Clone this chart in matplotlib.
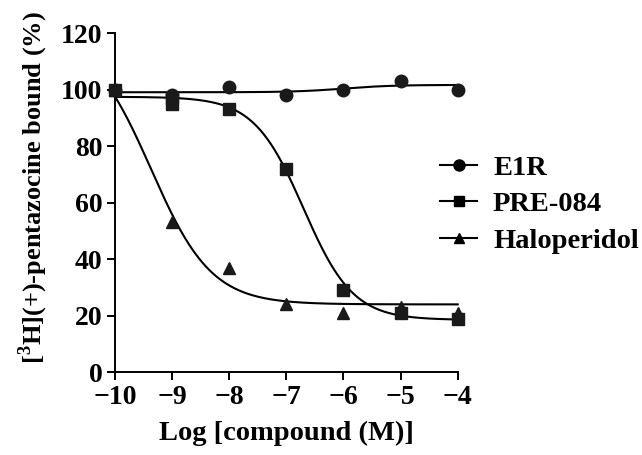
import numpy as np
import matplotlib
matplotlib.use("Agg")
import matplotlib.pyplot as plt

plt.rcParams["font.family"] = "Liberation Serif"
plt.rcParams["font.weight"] = "bold"
plt.rcParams["mathtext.fontset"] = "custom"
plt.rcParams["mathtext.rm"] = "Liberation Serif:bold"
plt.rcParams["mathtext.bf"] = "Liberation Serif:bold"
plt.rcParams["axes.unicode_minus"] = True

log_conc = [-10, -9, -8, -7, -6, -5, -4]
e1r = [100, 98, 101, 98, 100, 103, 100]
pre084 = [100, 95, 93, 72, 29, 21, 19]
pre084_extra_x = [-9]
pre084_extra = [97]
haloperidol = [100, 53, 37, 24, 21, 23, 21]

# fitted curves (top, bottom, logIC50, hill)
e1r_fit = (99.1, 101.7, -6.0, 1.0)
pre084_fit = (97.5, 18.5, -6.7, 1.0)
halo_fit = (120.0, 24.0, -9.37, 0.82)


def logistic(x, top, bottom, center, hill):
    return bottom + (top - bottom) / (1 + 10 ** ((x - center) * hill))


fig = plt.figure(figsize=(6.42, 4.55), dpi=100)
ax = fig.add_axes([0.179, 0.182, 0.534, 0.745])

xs = np.linspace(-10, -4, 300)
lw = 1.5
ax.plot(xs, logistic(xs, *e1r_fit), color="black", lw=lw, clip_on=False)
ax.plot(xs, logistic(xs, *pre084_fit), color="black", lw=lw, clip_on=False)
ax.plot(xs, logistic(xs, *halo_fit), color="black", lw=lw, clip_on=False)

ax.plot(log_conc, e1r, "o", color="#1a1a1a", ms=9, clip_on=False, zorder=5)
ax.plot(log_conc, pre084, "s", color="#1a1a1a", ms=9, clip_on=False, zorder=5)
ax.plot(pre084_extra_x, pre084_extra, "s", color="#1a1a1a", ms=9, clip_on=False, zorder=5)
ax.plot(log_conc, haloperidol, "^", color="#1a1a1a", ms=8.5, clip_on=False, zorder=5)

ax.set_xlim(-10, -4)
ax.set_ylim(0, 120)
ax.set_xticks(log_conc)
ax.set_yticks(range(0, 121, 20))
ax.spines["top"].set_visible(False)
ax.spines["right"].set_visible(False)
for s in ["left", "bottom"]:
    ax.spines[s].set_linewidth(1.4)
ax.tick_params(width=1.4, length=6, labelsize=20, pad=3)

ax.set_xlabel("Log [compound (M)]", fontsize=20.5, fontweight="bold", labelpad=8)
ax.set_ylabel(r"[$^{3}$H](+)-pentazocine bound (%)", fontsize=19,
              fontweight="bold")
ax.yaxis.set_label_coords(-0.19, 0.545)

handles = [
    plt.Line2D([], [], color="black", lw=lw, marker="o", ms=8),
    plt.Line2D([], [], color="black", lw=lw, marker="s", ms=7),
    plt.Line2D([], [], color="black", lw=lw, marker="^", ms=7),
]
fig.legend(handles, ["E1R", "PRE-084", "Haloperidol"], loc="upper left",
           bbox_to_anchor=(0.646, 0.715), frameon=False, fontsize=20.5,
           handlelength=1.3, labelspacing=0.36, handletextpad=0.55)

fig.savefig("out.png", dpi=100)
